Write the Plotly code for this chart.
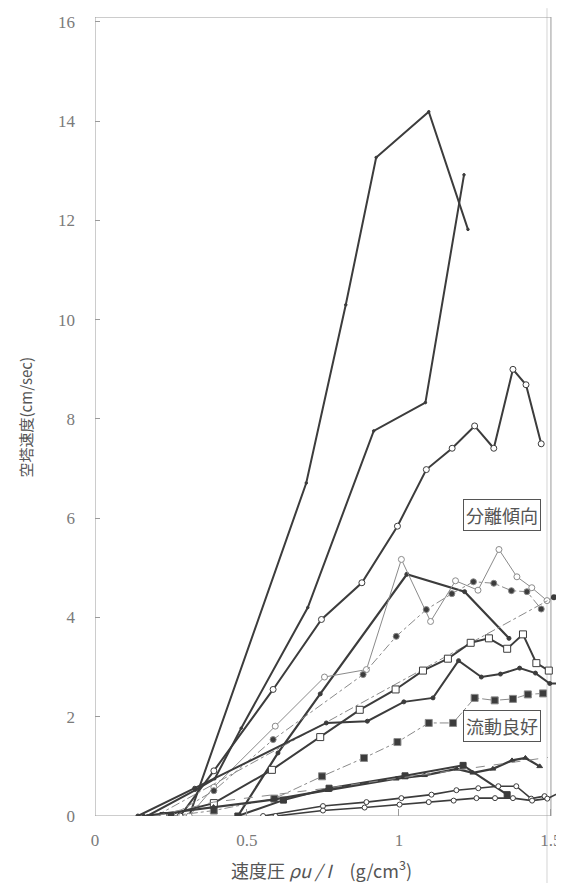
import plotly.graph_objects as go

# ---- data ----
s1_x = [0.31, 0.695, 0.825, 0.925, 1.098, 1.227]
s1_y = [0.0, 6.71, 10.3, 13.27, 14.19, 11.82]

s2_x = [0.172, 0.33, 0.394, 0.481, 0.70, 0.917, 1.087, 1.214]
s2_y = [0.0, 0.52, 0.75, 1.77, 4.2, 7.76, 8.33, 12.92]

s3_x = [0.28, 0.391, 0.586, 0.745, 0.878, 0.995, 1.090, 1.175, 1.249, 1.312, 1.375, 1.418, 1.468]
s3_y = [0.0, 0.91, 2.55, 3.96, 4.70, 5.84, 6.98, 7.41, 7.86, 7.41, 9.0, 8.69, 7.50]

d_x = [0.47, 0.602, 0.741, 1.026, 1.216, 1.362]
d_y = [0.0, 1.27, 2.46, 4.87, 4.52, 3.58]

e_x = [0.31, 0.391, 0.593, 0.755, 0.893, 1.008, 1.104, 1.186, 1.26, 1.329, 1.388, 1.437, 1.487]
e_y = [0.0, 0.58, 1.81, 2.80, 2.95, 5.17, 3.92, 4.74, 4.55, 5.37, 4.82, 4.60, 4.34]

f_x = [0.25, 0.391, 0.586, 0.882, 0.991, 1.090, 1.174, 1.245, 1.312, 1.37, 1.421, 1.468]
f_y = [0.0, 0.51, 1.54, 2.85, 3.62, 4.16, 4.48, 4.72, 4.69, 4.54, 4.52, 4.17]

g_x = [0.2, 0.909, 1.51]
g_y = [0.0, 2.38, 4.41]

h_x = [0.225, 0.391, 0.582, 0.741, 0.871, 0.989, 1.079, 1.161, 1.236, 1.296, 1.356, 1.408, 1.452, 1.493]
h_y = [0.0, 0.26, 0.93, 1.59, 2.14, 2.55, 2.93, 3.17, 3.49, 3.58, 3.37, 3.66, 3.08, 2.93]

i_x = [0.141, 0.328, 0.761, 0.896, 1.016, 1.112, 1.196, 1.271, 1.334, 1.397, 1.449, 1.496, 1.539, 1.567]
i_y = [0.0, 0.56, 1.875, 1.91, 2.30, 2.38, 3.13, 2.80, 2.86, 2.98, 2.88, 2.67, 2.67, 2.95]

j_x = [0.25, 0.391, 0.59, 0.747, 0.885, 0.995, 1.098, 1.178, 1.249, 1.315, 1.375, 1.424, 1.474]
j_y = [0.0, 0.11, 0.35, 0.80, 1.17, 1.49, 1.875, 1.875, 2.38, 2.33, 2.36, 2.45, 2.47]

k_x = [0.16, 0.39, 0.586, 0.766, 0.991, 1.084, 1.19, 1.243, 1.309, 1.372, 1.416, 1.463]
k_y = [0.0, 0.18, 0.33, 0.52, 0.75, 0.82, 0.95, 0.87, 0.95, 1.12, 1.17, 1.00]

l_x = [0.47, 0.62, 0.77, 1.02, 1.211, 1.356]
l_y = [0.0, 0.32, 0.56, 0.81, 1.02, 0.43]

m_x = [0.553, 0.75, 0.893, 1.008, 1.107, 1.189, 1.261, 1.327, 1.386, 1.435, 1.479]
m_y = [0.0, 0.20, 0.28, 0.36, 0.43, 0.52, 0.56, 0.60, 0.60, 0.35, 0.40]

n_x = [0.594, 0.75, 0.887, 1.002, 1.098, 1.18, 1.255, 1.316, 1.375, 1.438, 1.488, 1.531]
n_y = [0.0, 0.11, 0.17, 0.23, 0.28, 0.31, 0.36, 0.36, 0.36, 0.31, 0.35, 0.48]

o_x = [0.2, 0.39, 0.75, 1.49]
o_y = [0.0, 0.28, 0.55, 1.18]

x_ticks = [0, 0.5, 1, 1.5]
x_labels = ["0", "0.5", "1", "1.5"]
y_ticks = [0, 2, 4, 6, 8, 10, 12, 14, 16]

DARK = "#3c3c3c"
LIGHT = "#8a8a8a"

fig = go.Figure()


def add(x, y, width, color, dash="solid", symbol=None, msize=6, mfill=None):
    mode = "lines+markers" if symbol else "lines"
    marker = None
    if symbol:
        marker = dict(symbol=symbol, size=msize,
                      color=mfill if mfill else color,
                      line=dict(color=color, width=1))
    fig.add_trace(go.Scatter(x=x, y=y, mode=mode,
                             line=dict(color=color, width=width, dash=dash),
                             marker=marker, showlegend=False, hoverinfo="skip"))


add(s1_x, s1_y, 2.0, DARK, symbol="circle", msize=2.5)
add(s2_x, s2_y, 2.0, DARK, symbol="circle", msize=2.5)
add(s3_x, s3_y, 2.0, DARK, symbol="circle", msize=6, mfill="white")
add(d_x, d_y, 2.2, DARK, symbol="circle", msize=4)
add(e_x, e_y, 1.0, LIGHT, symbol="circle", msize=6, mfill="white")
add(f_x, f_y, 1.0, LIGHT, dash="dashdot", symbol="circle", msize=6, mfill=DARK)
add(g_x, g_y, 1.0, LIGHT, dash="dashdot")
fig.add_trace(go.Scatter(x=[g_x[-1]], y=[g_y[-1]], mode="markers",
                         marker=dict(symbol="circle", size=6, color=DARK),
                         showlegend=False, hoverinfo="skip", cliponaxis=False))
add(h_x, h_y, 2.0, DARK, symbol="square", msize=7, mfill="white")
add(i_x, i_y, 2.0, DARK, symbol="circle", msize=4)
add(j_x, j_y, 1.0, LIGHT, dash="dashdot", symbol="square", msize=7, mfill=DARK)
add(k_x, k_y, 2.2, DARK, symbol="triangle-up", msize=5)
add(l_x, l_y, 2.0, DARK, symbol="square", msize=6, mfill=DARK)
add(m_x, m_y, 1.6, DARK, symbol="circle", msize=5, mfill="white")
add(n_x, n_y, 1.6, DARK, symbol="circle", msize=5, mfill="white")
add(o_x, o_y, 1.0, LIGHT, dash="dash")

# frame of the plot
fig.add_shape(type="rect", xref="x", yref="y", x0=0, x1=1.5, y0=0, y1=16.1,
              line=dict(color="#9a9a9a", width=1), layer="below")
# faint scan line near the right frame
fig.add_shape(type="line", xref="x", yref="paper", x0=1.487, x1=1.487, y0=-0.094, y1=1.011,
              line=dict(color="#d4d4d4", width=1), layer="below")

box_font = dict(family="Noto Sans CJK JP", size=18, color="#555555")
for txt, bx, by in [("分離傾向", 1.340, 6.06), ("流動良好", 1.338, 1.81), ("過剰粘性", 1.300, -0.07)]:
    fig.add_annotation(x=bx, y=by, xref="x", yref="y", text=txt, showarrow=False,
                       xanchor="center", yanchor="middle",
                       font=box_font, bordercolor="#555555", borderwidth=1,
                       borderpad=2, bgcolor="white")

# axis titles
fig.add_annotation(x=0.475, y=-0.066, xref="paper", yref="paper",
                   xanchor="center", yanchor="middle",
                   text="速度圧 <i>ρu / I</i>　(g/cm<sup>3</sup>)", showarrow=False,
                   font=dict(family="Noto Sans CJK JP", size=18, color="#555555"))
fig.add_annotation(x=-0.145, y=0.5, xref="paper", yref="paper",
                   xanchor="center", yanchor="middle",
                   text="空塔速度(cm/sec)", showarrow=False, textangle=-90,
                   font=dict(family="Noto Sans CJK JP", size=15, color="#555555"))

tick_font = dict(family="Liberation Serif", size=17, color="#7a7a7a")
fig.update_layout(
    width=564, height=883,
    margin=dict(l=87, r=1, t=9, b=75),
    paper_bgcolor="white", plot_bgcolor="white",
    xaxis=dict(range=[0, 1.566], tickvals=x_ticks, ticktext=x_labels,
               showgrid=False, zeroline=False, showline=False, automargin=False,
               ticks="inside", ticklen=7, tickcolor="#9a9a9a",
               tickfont=tick_font, ticklabelstandoff=12),
    yaxis=dict(range=[0, 16.1], tickvals=y_ticks,
               showgrid=False, zeroline=False, showline=False, automargin=False,
               ticks="inside", ticklen=5, tickcolor="#9a9a9a",
               tickfont=tick_font, ticklabelstandoff=19),
)

fig.write_html("out.html")
